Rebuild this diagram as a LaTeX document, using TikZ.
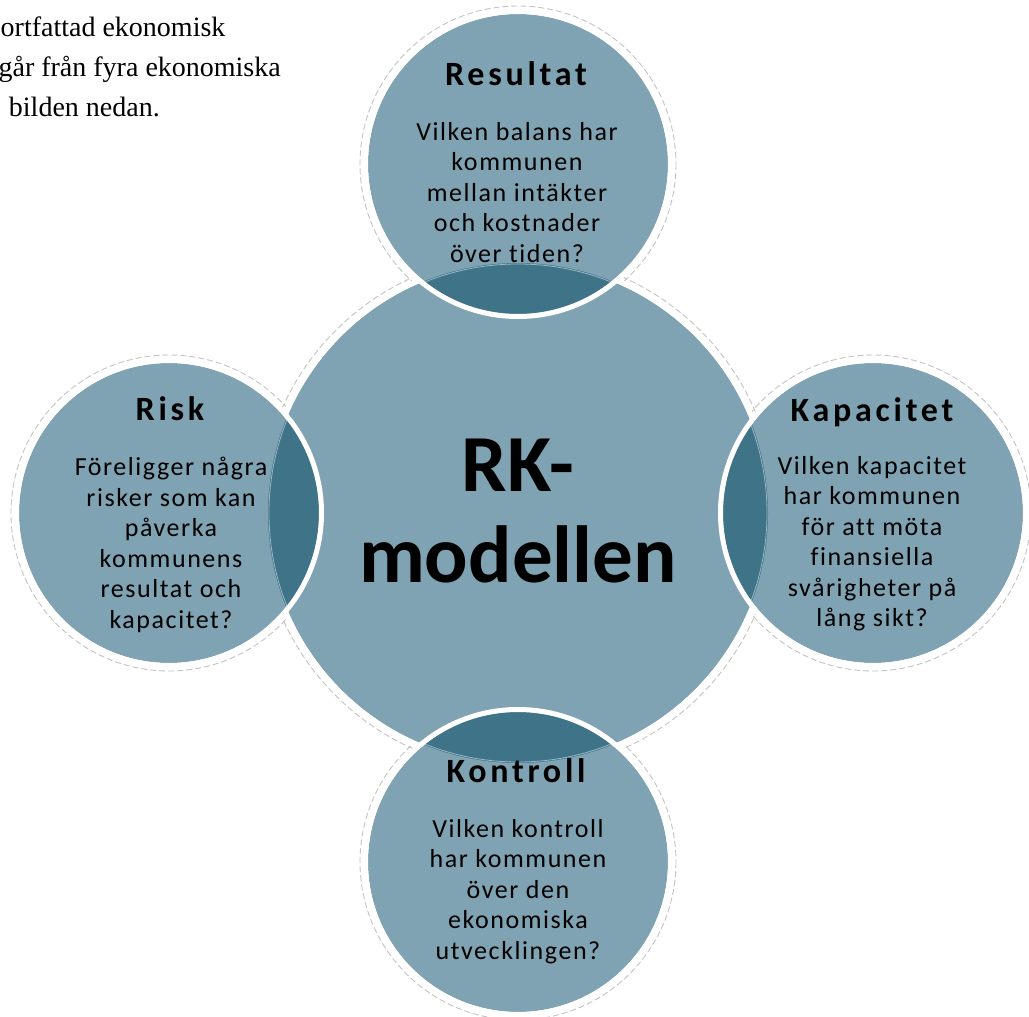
\documentclass[tikz,border=0pt]{standalone}
\usepackage{fontspec}
\setmainfont{Carlito}
\newfontfamily\introfont{Liberation Serif}
\newfontfamily\bodyfont[LetterSpace=6, Ligatures=NoCommon]{Carlito}
\newfontfamily\headfont[LetterSpace=11, Ligatures=NoCommon]{Carlito}
\usetikzlibrary{calc}
\definecolor{bluegray}{RGB}{127,163,178}
\definecolor{lensblue}{RGB}{63,116,136}
\definecolor{halogray}{RGB}{195,195,195}

\begin{document}
\begin{tikzpicture}[x=1pt, y=-1pt,
		rim/.style={draw=white, line width=5pt},
		halo/.style={draw=halogray, line width=0.9pt, dash pattern=on 6pt off 3pt},
		lensedge/.style={draw=bluegray!80!white, line width=0.8pt},
		hubtext/.style={font=\bfseries\fontsize{81}{91}\selectfont, align=center, inner sep=0pt},
		head/.style={font=\headfont\bfseries\fontsize{34}{38}\selectfont, inner sep=0pt, anchor=base},
		body/.style={font=\bodyfont\fontsize{26}{30.5}\selectfont, align=center, inner sep=0pt, anchor=north},
		intro/.style={font=\introfont\fontsize{28}{40}\selectfont, inner sep=0pt, anchor=base east}]
		%%%%% START %%%%%
		
		\useasboundingbox (0, 0) rectangle (1029, 1017);
		\clip (0, 0) rectangle (1029, 1017);
		
		\coordinate (rk) at (518, 513);
		\coordinate (res) at (518, 164);
		\coordinate (kap) at (873, 513);
		\coordinate (kon) at (518, 862);
		\coordinate (risk) at (169, 513);
		
		% text cut off at the left edge
		\node[intro, anchor=base west] (intro1) at (0.5, 36) {ortfattad ekonomisk};
		\node[intro] (intro2) at (281, 76) {går från fyra ekonomiska};
		\node[intro] (intro3) at (160, 116) {bilden nedan.};
		
		\draw[halo] (rk) circle (258);
		\foreach \c in {res, kap, kon, risk}
			\draw[halo] (\c) circle (158);
		
		\fill[bluegray] (rk) circle (250);
		\draw[rim] (rk) circle (252.5);
		
		\foreach \c in {res, kap, kon, risk}
			\fill[bluegray] (\c) circle (150);
		
		\begin{scope}
			\clip (rk) circle (250);
			\foreach \c in {res, kap, kon, risk}
				\fill[lensblue] (\c) circle (150);
		\end{scope}
		\begin{scope}
			\clip (res) circle (150) (kap) circle (150) (kon) circle (150) (risk) circle (150);
			\draw[lensedge] (rk) circle (249);
		\end{scope}
		
		\foreach \c in {res, kap, kon, risk}
			\draw[rim] (\c) circle (152.5);
		
		\node[hubtext] (rk label) at (518, 511.5) {RK-\\modellen};
		
		\node[head] (res head) at (516, 85) {Resultat};
		\node[body] (res body) at (517, 122) {Vilken balans har\\kommunen\\mellan intäkter\\och kostnader\\över tiden?};
		
		\node[head] (risk head) at (170, 420) {Risk};
		\node[body] (risk body) at (171, 457) {Föreligger några\\risker som kan\\påverka\\kommunens\\resultat och\\kapacitet?};
		
		\node[head] (kap head) at (872, 421) {Kapacitet};
		\node[body] (kap body) at (872, 456) {Vilken kapacitet\\har kommunen\\för att möta\\finansiella\\svårigheter på\\lång sikt?};
		
		\node[head] (kon head) at (516, 782) {Kontroll};
		\node[body] (kon body) at (518, 819) {Vilken kontroll\\har kommunen\\över den\\ekonomiska\\utvecklingen?};
		
		%%%%% END %%%%%
\end{tikzpicture}
\end{document}
